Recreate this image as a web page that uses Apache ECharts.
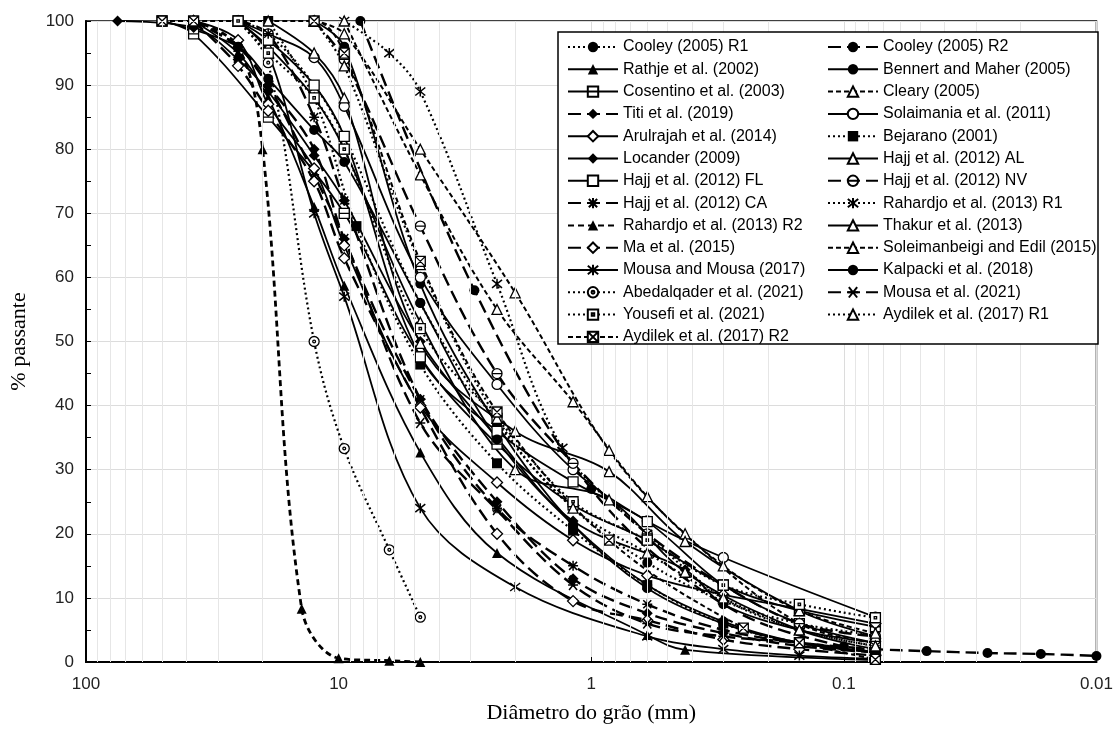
<!DOCTYPE html>
<html><head><meta charset="utf-8">
<script src="https://cdn.jsdelivr.net/npm/echarts@6/dist/echarts.min.js"></script>
<style>html,body{margin:0;padding:0;background:#fff}#c{width:1116px;height:729px}</style>
</head><body><div id="c"></div><script>
// ---- data: [diameter (mm), % passing] ----
const cooleyR1    = [[25,100],[19,98],[12.5,90],[9.5,82],[4.75,56],[2.36,37.3],[1.18,24],[0.6,15.5],[0.3,9.5],[0.15,6],[0.075,4.2]];
const cooleyR2    = [[8.2,100],[2.9,58],[1.0,27],[0.3,9],[0.1,2.4],[0.075,2],[0.047,1.7],[0.027,1.4],[0.0166,1.25],[0.01,0.95]];
const rathje      = [[37.5,100],[25,95],[19,88],[12.5,71],[9.5,58.7],[4.75,32.7],[2.36,17],[0.6,4.2],[0.425,1.9],[0.075,0.3]];
const bennert     = [[12.5,100],[9.5,96],[4.75,59],[2.36,37],[1.18,21.4],[0.6,11.5],[0.3,6],[0.15,3],[0.075,1.6]];
const cosentino   = [[50,100],[37.5,98],[19,85],[9.5,70],[4.75,47.6],[2.36,34],[1.18,24.5],[0.6,19],[0.3,12],[0.15,8],[0.075,5.5]];
const cleary      = [[12.5,100],[9.5,98],[4.75,80],[2.0,57.6],[0.85,33],[0.425,20],[0.15,6],[0.075,3]];
const titi        = [[37.5,100],[25,96],[19,90],[12.5,80],[9.5,66],[4.75,41],[2.36,25],[1.18,13],[0.6,7.6],[0.3,4.5],[0.15,2.5],[0.075,1.5]];
const solaimania  = [[25,100],[19,98],[12.5,94.3],[9.5,86.7],[4.75,60],[2.36,43.3],[1.18,30],[0.6,22],[0.3,16.3],[0.075,7]];
const arulrajah   = [[37.5,100],[25,97],[19,87],[12.5,77],[9.5,65],[4.75,40],[2.36,28],[1.18,19],[0.6,13.5],[0.3,10.5],[0.15,8.3],[0.075,6]];
const bejarano    = [[19,100],[12.5,88],[8.5,68],[4.75,46.4],[2.36,31],[1.18,20.5],[0.6,12],[0.3,6],[0.15,3],[0.075,1.5]];
const locander    = [[75,100],[37.5,99],[25,94],[19,89],[12.5,79],[9.5,72],[4.75,50],[2.36,35],[1.18,22],[0.425,14.4],[0.3,9],[0.15,5],[0.075,3]];
const hajjAL      = [[25,100],[19,96],[12.5,88],[9.5,80],[4.75,53],[2.0,30],[0.85,25.3],[0.425,14],[0.15,5],[0.075,2]];
const hajjFL      = [[25,100],[19,97],[12.5,90],[9.5,82],[4.75,47.6],[2.36,36],[1.18,28.1],[0.6,21.9],[0.3,12],[0.15,6],[0.075,3]];
const hajjNV      = [[12.5,100],[9.5,94],[4.75,68],[2.36,45],[1.18,31],[0.6,20],[0.3,12],[0.15,6],[0.075,4]];
const hajjCA      = [[25,100],[19,98],[12.5,85],[9.5,72],[4.75,41],[2.36,24],[1.18,15],[0.6,9],[0.3,5],[0.15,3],[0.075,2]];
const rahardjoR1  = [[9.5,100],[6.3,95],[4.75,89],[2.36,59],[1.3,33.4],[0.6,20],[0.3,10],[0.15,5],[0.075,2.5]];
const rahardjoR2  = [[37.5,100],[25,96],[20,80],[14,8.3],[10,0.6],[6.3,0.2],[4.75,0]];
const thakur      = [[19,100],[12.5,95],[9.5,88],[4.75,49.7],[2.0,36],[0.85,29.7],[0.425,18.8],[0.15,8],[0.075,4]];
const ma          = [[37.5,100],[25,93],[19,86],[12.5,75],[9.5,63],[4.75,39.7],[2.36,20],[1.18,9.5],[0.6,6.5],[0.3,3.5],[0.15,2],[0.075,1]];
const soleiman    = [[9.5,100],[4.75,76],[2.36,55],[1.18,40.6],[0.6,25.8],[0.3,15],[0.15,8],[0.075,4.5]];
const mousaMousa  = [[25,100],[19,95],[12.5,70],[9.5,57],[4.75,24],[2.0,11.7],[0.6,4],[0.3,2],[0.15,1],[0.075,0.5]];
const kalpacki    = [[50,100],[25,96],[19,91],[12.5,83],[9.5,78],[4.75,56],[2.36,34.7],[1.18,21.4],[0.6,12],[0.3,6.3],[0.15,3],[0.075,1.5]];
const abedalqader = [[25,100],[19,93.5],[12.5,50],[9.5,33.3],[6.3,17.5],[4.75,7]];
const mousa2021   = [[37.5,100],[25,96],[19,90],[12.5,76],[9.5,66],[4.75,37.3],[2.36,23.7],[1.18,12],[0.6,6],[0.3,4],[0.15,3],[0.075,1.5]];
const yousefi     = [[25,100],[19,95],[12.5,88],[9.5,80],[4.75,52],[2.36,38],[1.18,25],[0.6,19],[0.3,12],[0.15,9],[0.075,6.9]];
const aydilekR1   = [[12.5,100],[9.5,93],[4.75,62],[2.36,38],[1.18,24],[0.6,17],[0.3,10],[0.15,5],[0.075,2.5]];
const aydilekR2   = [[50,100],[37.5,100],[12.5,100],[9.5,95],[4.75,62.5],[2.36,39],[0.85,19],[0.25,5.3],[0.15,3],[0.075,0.4]];

const yTicks = [0,10,20,30,40,50,60,70,80,90,100];
const xTickLabels = ['100','10','1','0.1','0.01'];

// ---- styles ----
const LS = {
  solid: {type:'solid', width:1.8},
  dot:   {type:[2,3], width:2.2},
  dash:  {type:[5,3], width:2},
  long:  {type:[13,6], width:2.4},
  thick: {type:[6,4], width:2.8}
};
const SYM = {
  boxLine: 'path://M0,0L10,0L10,10L0,10Z M0,5L10,5',
  circLine:'path://M0,5A5,5,0,1,1,10,5A5,5,0,1,1,0,5Z M0,5L10,5',
  circDot: 'path://M0,5A5,5,0,1,1,10,5A5,5,0,1,1,0,5Z M3.6,5A1.4,1.4,0,1,1,6.4,5A1.4,1.4,0,1,1,3.6,5Z',
  boxDot:  'path://M0,0L10,0L10,10L0,10Z M3.8,3.8L6.2,3.8L6.2,6.2L3.8,6.2Z',
  boxX:    'path://M0,0L10,0L10,10L0,10Z M0,0L10,10 M10,0L0,10',
  star6:   'path://M1,1L9,9 M9,1L1,9 M5,0L5,10',
  star8:   'path://M1,1L9,9 M9,1L1,9 M5,0L5,10 M0,5L10,5',
  xbar:    'path://M1,1L9,9 M9,1L1,9 M0,5L10,5',
  xvert:   'path://M1,1L9,9 M9,1L1,9 M5,0L5,10'
};
// name, data, line, symbol, fill ('f' filled, 'o' open, 's' stroke-only)
const defs = [
  ['Cooley (2005) R1', cooleyR1, 'dot', 'circle', 'f'],
  ['Cooley (2005) R2', cooleyR2, 'long', 'circle', 'f'],
  ['Rathje et al. (2002)', rathje, 'solid', 'triangle', 'f'],
  ['Bennert and Maher (2005)', bennert, 'solid', 'circle', 'f'],
  ['Cosentino et al. (2003)', cosentino, 'solid', SYM.boxLine, 'o'],
  ['Cleary (2005)', cleary, 'dash', 'triangle', 'o'],
  ['Titi et al. (2019)', titi, 'long', 'diamond', 'f'],
  ['Solaimania et al. (2011)', solaimania, 'solid', 'circle', 'o'],
  ['Arulrajah et al. (2014)', arulrajah, 'solid', 'diamond', 'o'],
  ['Bejarano (2001)', bejarano, 'dot', 'rect', 'f'],
  ['Locander (2009)', locander, 'solid', 'diamond', 'f'],
  ['Hajj et al. (2012) AL', hajjAL, 'solid', 'triangle', 'o'],
  ['Hajj et al. (2012) FL', hajjFL, 'solid', 'rect', 'o'],
  ['Hajj et al. (2012) NV', hajjNV, 'long', SYM.circLine, 'o'],
  ['Hajj et al. (2012) CA', hajjCA, 'long', SYM.star8, 's'],
  ['Rahardjo et al. (2013) R1', rahardjoR1, 'dot', SYM.xvert, 's'],
  ['Rahardjo et al. (2013) R2', rahardjoR2, 'thick', 'triangle', 'f'],
  ['Thakur et al. (2013)', thakur, 'solid', 'triangle', 'o'],
  ['Ma et al. (2015)', ma, 'long', 'diamond', 'o'],
  ['Soleimanbeigi and Edil (2015)', soleiman, 'dash', 'triangle', 'o'],
  ['Mousa and Mousa (2017)', mousaMousa, 'solid', SYM.star6, 's'],
  ['Kalpacki et al. (2018)', kalpacki, 'solid', 'circle', 'f'],
  ['Abedalqader et al. (2021)', abedalqader, 'dot', SYM.circDot, 'o'],
  ['Mousa et al. (2021)', mousa2021, 'long', SYM.xbar, 's'],
  ['Yousefi et al. (2021)', yousefi, 'dot', SYM.boxDot, 'o'],
  ['Aydilek et al. (2017) R1', aydilekR1, 'dot', 'triangle', 'o'],
  ['Aydilek et al. (2017) R2', aydilekR2, 'dash', SYM.boxX, 'o']
];

// minor vertical gridline positions (2..9 within each decade)
const minorGrid = [];
[0.01,0.1,1,10].forEach(d => { for (let k = 2; k <= 9; k++) minorGrid.push(+(d*k).toPrecision(3)); });

const series = [{
  name: '_grid', type: 'line', data: [[1, 50]], showSymbol: false, silent: true, z: 1,
  lineStyle: {opacity: 0},
  markLine: {silent: true, symbol: 'none', label: {show: false},
    lineStyle: {color: '#e6e6e6', width: 1, type: 'solid'},
    data: minorGrid.map(v => ({xAxis: v}))}
}];
defs.forEach(d => {
  const [name, data, line, sym, fill] = d;
  let itemStyle;
  if (fill === 'f') itemStyle = {color: '#000', borderColor: '#000', borderWidth: 0};
  else if (fill === 'o') itemStyle = {color: '#fff', borderColor: '#000', borderWidth: 1.3};
  else itemStyle = {color: '#000', borderColor: '#000', borderWidth: 1.5};
  series.push({
    name, type: 'line', data, smooth: 0.35, z: 3,
    symbol: sym, symbolSize: (sym === 'diamond') ? 11 : 10, showAllSymbol: true,
    lineStyle: Object.assign({color: '#000'}, LS[line]),
    itemStyle
  });
});

const names = defs.map(d => d[0]);
const leftNames = names.filter((n, i) => i % 2 === 0);
const rightNames = names.filter((n, i) => i % 2 === 1);
const legendCommon = {
  orient: 'vertical', top: 34, itemWidth: 50, itemHeight: 13, itemGap: 6.3,
  selectedMode: false, z: 100,
  textStyle: {fontFamily: 'Liberation Sans', fontSize: 16, color: '#000', lineHeight: 16}
};

const chart = echarts.init(document.getElementById('c'));
chart.setOption({
  animation: false,
  backgroundColor: '#fff',
  grid: {left: 83, right: 16, top: 21, bottom: 67, show: true, borderColor: '#000', borderWidth: 1.5},
  xAxis: {
    type: 'log', logBase: 10, min: 0.01, max: 100, inverse: true,
    name: 'Diâmetro do grão (mm)', nameLocation: 'middle', nameGap: 40,
    nameTextStyle: {fontFamily: 'Liberation Serif', fontSize: 22, color: '#000'},
    axisLine: {lineStyle: {color: '#000', width: 2}},
    axisTick: {show: true, inside: true, length: 5, lineStyle: {color: '#000'}},
    axisLabel: {fontFamily: 'Liberation Sans', fontSize: 17, color: '#222', margin: 14,
      formatter: v => { const s = String(+(+v).toPrecision(3)); return xTickLabels.indexOf(s) >= 0 ? s : ''; }},
    splitLine: {show: true, lineStyle: {color: '#dcdcdc', width: 1}}
  },
  yAxis: {
    type: 'value', min: yTicks[0], max: yTicks[yTicks.length - 1], interval: 10,
    name: '% passante', nameLocation: 'middle', nameGap: 56,
    nameTextStyle: {fontFamily: 'Liberation Serif', fontSize: 22, color: '#000'},
    axisLine: {show: true, lineStyle: {color: '#000', width: 2}},
    axisTick: {show: true, inside: true, length: 5, lineStyle: {color: '#000'}},
    minorTick: {show: true, splitNumber: 2, length: 5, lineStyle: {color: '#000'}},
    axisLabel: {fontFamily: 'Liberation Sans', fontSize: 17, color: '#222', margin: 12},
    splitLine: {show: true, lineStyle: {color: '#dcdcdc', width: 1}}
  },
  graphic: {elements: [{type: 'rect', z: 90, silent: true,
    shape: {x: 558, y: 32, width: 540, height: 312},
    style: {fill: '#fff', stroke: '#000', lineWidth: 1.5}}]},
  legend: [
    Object.assign({left: 562, data: leftNames}, legendCommon),
    Object.assign({left: 822, data: rightNames}, legendCommon)
  ],
  series
});
</script></body></html>
